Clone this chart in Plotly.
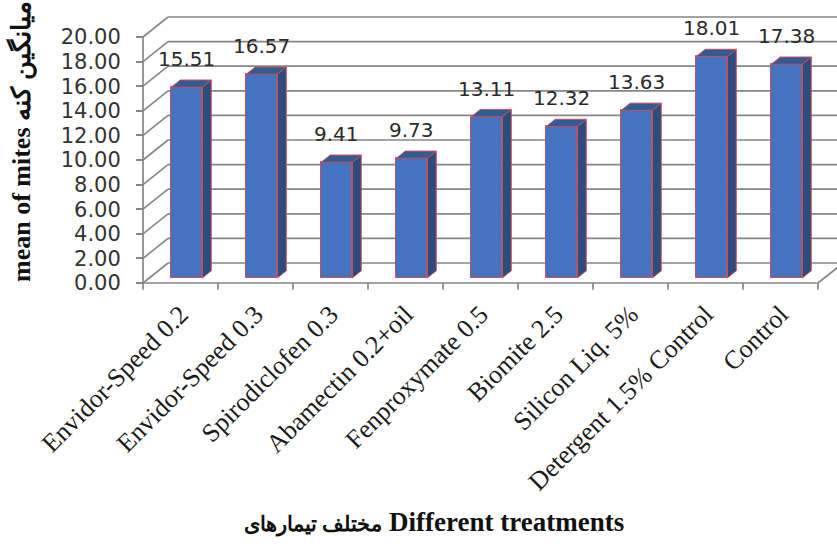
import plotly.graph_objects as go

# ---------------- data ----------------
categories = ["Envidor-Speed 0.2", "Envidor-Speed 0.3", "Spirodiclofen 0.3",
              "Abamectin 0.2+oil", "Fenproxymate 0.5", "Biomite 2.5",
              "Silicon Liq. 5%", "Detergent 1.5% Control", "Control"]
values = [15.51, 16.57, 9.41, 9.73, 13.11, 12.32, 13.63, 18.01, 17.38]
y_ticks = [0, 2, 4, 6, 8, 10, 12, 14, 16, 18, 20]
y_tick_text = ["%.2f" % v for v in y_ticks]
x_title_fa = "مختلف تیمارهای"
x_title_en = "Different treatments"
y_title = "mean of mites میانگین کنه"

# ---------------- geometry (pixel layout -> data units) ----------------
W, H = 837, 544
PX_X = 75.0          # px per category
PX_Y = 12.3          # px per value unit
AX_X = 143           # front y-axis pixel x
AX_Y = 283           # front baseline pixel y
L_PX, R_PX, T_PX, B_PX = 133, 837, 5, 293
plot_w = R_PX - L_PX
plot_h = B_PX - T_PX

def px2x(px):
    return -0.5 + (px - AX_X) / PX_X

def px2y(py):
    return (AX_Y - py) / PX_Y

def px2paper_x(px):
    return (px - L_PX) / plot_w

def px2paper_y(py):
    return (B_PX - py) / plot_h

x_range = [px2x(L_PX), px2x(R_PX)]
y_range = [px2y(B_PX), px2y(T_PX)]

DEP_X = 25 / PX_X    # full depth offset (x)
DEP_Y = 20 / PX_Y    # full depth offset (y)
F0 = 0.25            # bar front at this depth fraction
FD = 0.36            # bar depth fraction
HW = 31 / PX_X / 2   # half bar width

n = len(categories)
idx = list(range(n))
x_first, x_last = -0.5, n - 0.5

# ---------------- grid / walls as shapes ----------------
grid_col = "#868686"
shapes = []
def line(x0, y0, x1, y1, w=1.7, c=grid_col):
    shapes.append(dict(type="line", xref="x", yref="y", x0=x0, y0=y0, x1=x1, y1=y1,
                       line=dict(color=c, width=w), layer="below"))

for v in y_ticks:
    line(x_first, v, x_first + DEP_X, v + DEP_Y)
    line(x_first + DEP_X, v + DEP_Y, x_last + DEP_X + 0.5, v + DEP_Y)
line(x_first, 0, x_first, y_ticks[-1])
line(x_first, 0, x_last, 0)
line(x_last, 0, x_last + DEP_X, DEP_Y)
for k in range(n + 1):
    b = -0.5 + k
    line(b, 0, b, -0.55)

# ---------------- bars ----------------
dx0, dy0 = F0 * DEP_X, F0 * DEP_Y
ddx, ddy = FD * DEP_X, FD * DEP_Y
front_col = "#4473C2"
side_col = "#2E4B7D"
top_col = "#36598F"
edge_col = "#C4505E"

bar_x = [i + dx0 for i in idx]

side_x, side_y, top_x, top_y = [], [], [], []
for i, v in zip(idx, values):
    xl = i + dx0 - HW
    xr = i + dx0 + HW
    yb = dy0
    yt = v + dy0
    side_x += [xr, xr + ddx, xr + ddx, xr, xr, None]
    side_y += [yb, yb + ddy, yt + ddy, yt, yb, None]
    top_x += [xl, xr, xr + ddx, xl + ddx, xl, None]
    top_y += [yt, yt, yt + ddy, yt + ddy, yt, None]

fig = go.Figure()
fig.add_trace(go.Bar(x=bar_x, y=values, base=dy0, width=2 * HW,
                     marker=dict(color=front_col, line=dict(color=edge_col, width=1)),
                     showlegend=False, hoverinfo="skip"))
fig.add_trace(go.Scatter(x=side_x, y=side_y, mode="lines", fill="toself",
                         fillcolor=side_col, line=dict(color=edge_col, width=1),
                         showlegend=False, hoverinfo="skip"))
fig.add_trace(go.Scatter(x=top_x, y=top_y, mode="lines", fill="toself",
                         fillcolor=top_col, line=dict(color=edge_col, width=1),
                         showlegend=False, hoverinfo="skip"))

# ---------------- data labels ----------------
annotations = []
for i, v in zip(idx, values):
    annotations.append(dict(x=i + dx0, y=v + dy0 + ddy, xref="x", yref="y",
                            text="%.2f" % v, showarrow=False, yanchor="bottom",
                            yshift=7, font=dict(family="DejaVu Sans", size=20, color="#2a2a2a")))

# titles (paper coordinates so they can sit outside the plot area)
x_title = '<span style="font-size:21px">%s</span> %s' % (x_title_fa, x_title_en)
annotations.append(dict(x=px2paper_x(434), y=px2paper_y(522), xref="paper", yref="paper",
                        text=x_title, showarrow=False, xanchor="center", yanchor="middle",
                        font=dict(family="Liberation Serif", size=27, color="#111111", weight="bold")))
annotations.append(dict(x=px2paper_x(21), y=px2paper_y(142), xref="paper", yref="paper",
                        text=y_title, showarrow=False, textangle=-90,
                        xanchor="center", yanchor="middle",
                        font=dict(family="Liberation Serif", size=26, color="#111111", weight="bold")))

fig.update_layout(
    width=W, height=H,
    margin=dict(l=L_PX, r=W - R_PX, t=T_PX, b=H - B_PX, pad=0),
    paper_bgcolor="white", plot_bgcolor="white",
    shapes=shapes, annotations=annotations,
    bargap=0,
    xaxis=dict(range=x_range, tickmode="array", tickvals=idx, ticktext=categories,
               tickangle=-45, showgrid=False, zeroline=False, showline=False, ticks="",
               ticklabelstandoff=0,
               tickfont=dict(family="Liberation Serif", size=26, color="#1a1a1a"),
               fixedrange=True),
    yaxis=dict(range=y_range, tickmode="array", tickvals=y_ticks, ticktext=y_tick_text,
               anchor="free", position=(AX_X - L_PX) / plot_w,
               showgrid=False, zeroline=False, showline=False,
               ticks="outside", ticklen=7, tickwidth=1.5, tickcolor=grid_col,
               ticklabelstandoff=11,
               tickfont=dict(family="DejaVu Sans", size=21, color="#333333"),
               fixedrange=True),
)

fig.write_html("out.html")
